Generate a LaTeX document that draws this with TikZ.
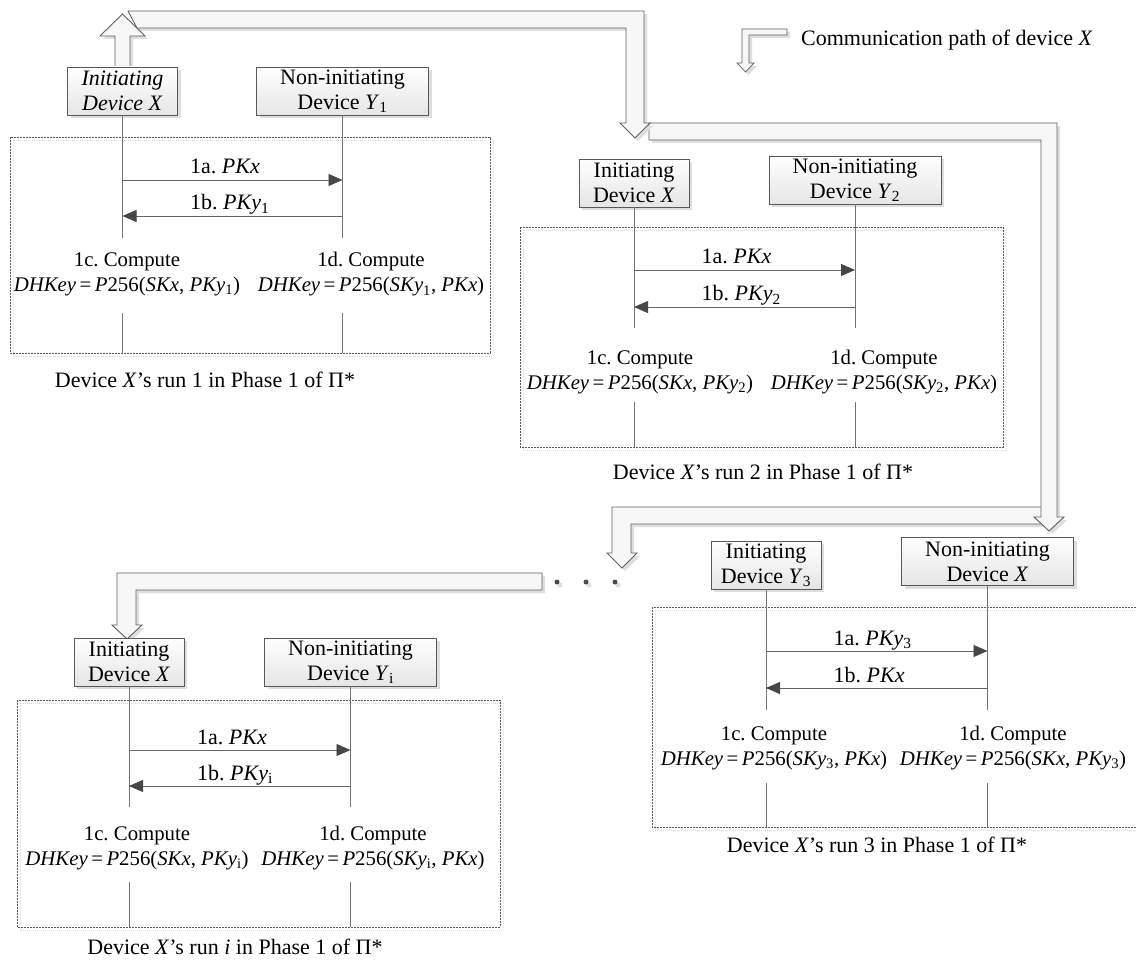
\documentclass[tikz,border=0pt]{standalone}
\usepackage{fontspec}
\setmainfont{Liberation Serif}
\usetikzlibrary{arrows.meta,shadows}
\begin{document}
\begin{tikzpicture}[x=1pt,y=-1pt,
  font=\fontsize{22}{25}\selectfont\frenchspacing,
  softshadow/.style={drop shadow={shadow xshift=3pt,shadow yshift=-3pt,fill=black!13,opacity=1}},
  devbox/.style={draw=black!65,line width=0.9pt,top color=white,bottom color=black!10,softshadow,align=center,minimum height=48pt,inner sep=2pt},
  lbox/.style={devbox,minimum width=110pt},
  rbox/.style={devbox,minimum width=172pt},
  life/.style={draw=black!55,line width=0.9pt},
  msg/.style={draw=black!60,line width=0.9pt,-{Triangle[length=14pt,width=12pt,color=black!72]}},
  lbl/.style={anchor=base west,inner sep=0pt},
  comp/.style={align=center,inner sep=0pt,font=\fontsize{20.8}{25}\selectfont\frenchspacing},
  captext/.style={inner sep=0pt},
  runbox/.style={draw=black!65,line width=0.6pt,dash pattern=on 2pt off 1pt},
  runshadow/.style={draw=black!15,line width=0.8pt,dash pattern=on 1pt off 1pt},
  band/.style={draw=black!62,line width=0.9pt,fill=black!3,softshadow},
  dot/.style={circle,fill=black!70,inner sep=0pt,minimum size=5pt,softshadow}
]
\useasboundingbox (0,0) rectangle (1136,960);

% ---------------- communication path ----------------
% band D (dots -> run i)
\draw[band] (542,573) -- (117,573) -- (117,625) -- (112,625) -- (127,639) -- (142,625) -- (136,625) -- (136,590) -- (542,590) -- cycle;
\node[dot] (d1) at (557,582) {};
\node[dot] (d2) at (586,582) {};
\node[dot] (d3) at (615,582) {};
% band C (run 3 -> dots)
\draw[band] (1045,507) -- (612,507) -- (612,553) -- (607,553) -- (622,568) -- (637,553) -- (631,553) -- (631,524) -- (1045,524) -- cycle;
% band B (run 2 -> run 3)
\draw[band] (649,123) -- (1057,123) -- (1057,517) -- (1064,517) -- (1049,531) -- (1034,517) -- (1041,517) -- (1041,140) -- (649,140) -- cycle;
% band A (run 1 -> run 2)
\draw[band] (128,11) -- (644,11) -- (644,123) -- (650,123) -- (635,138) -- (620,123) -- (626,123) -- (626,28) -- (137,28) -- cycle;
% up arrow out of run 1
\draw[band] (115,67) -- (115,36) -- (100,36) -- (122.5,14) -- (145,36) -- (130,36) -- (130,67) -- cycle;

% legend
\draw[band,line width=0.7pt] (742,29) -- (787,29) -- (787,35) -- (749,35) -- (749,63) -- (754,63) -- (745.5,72) -- (737,63) -- (742,63) -- cycle;
\node[anchor=west,inner sep=0pt] (legend) at (801,40) {Communication path of device \textit{X}};

% ---------------- run 1 ----------------
\draw[runshadow] (13,140) rectangle (493,356);
\draw[runbox] (10,137) rectangle (490,353);
\node[lbox] (L1) at (122.5,91) {\textit{Initiating}\\\textit{Device X}};
\node[rbox] (R1) at (342.5,91) {Non-initiating\\Device \textit{Y}\textsubscript{1}};
\draw[life] (L1) -- (L1 |- 0,238);
\draw[life] (R1) -- (R1 |- 0,238);
\draw[life] (L1 |- 0,313) -- (L1 |- 0,353);
\draw[life] (R1 |- 0,313) -- (R1 |- 0,353);
\draw[msg] (L1 |- 0,180) -- (R1 |- 0,180);
\draw[msg] (R1 |- 0,216) -- (L1 |- 0,216);
\node[lbl] (m1a) at (190,174) {1a. \textit{PKx}};
\node[lbl] (m1b) at (190,210) {1b. \textit{PKy}\textsubscript{1}};
\node[comp] (c1l) at (127,274.5) {1c. Compute\\\textit{DHKey}\,=\,\textit{P}256(\textit{SKx}, \textit{PKy}\textsubscript{1})};
\node[comp] (c1r) at (371,274.5) {1d. Compute\\\textit{DHKey}\,=\,\textit{P}256(\textit{SKy}\textsubscript{1}, \textit{PKx})};
\node[captext] (cap1) at (205,380) {Device \textit{X}'s run 1 in Phase 1 of Π*};

% ---------------- run 2 ----------------
\draw[runshadow] (523,230) rectangle (1006,450);
\draw[runbox] (520,227) rectangle (1003,447);
\node[lbox] (L2) at (634,183) {Initiating\\Device \textit{X}};
\node[rbox] (R2) at (855,180) {Non-initiating\\Device \textit{Y}\textsubscript{2}};
\draw[life] (L2) -- (L2 |- 0,328);
\draw[life] (R2) -- (R2 |- 0,328);
\draw[life] (L2 |- 0,402) -- (L2 |- 0,447);
\draw[life] (R2 |- 0,402) -- (R2 |- 0,447);
\draw[msg] (L2 |- 0,270) -- (R2 |- 0,270);
\draw[msg] (R2 |- 0,307) -- (L2 |- 0,307);
\node[lbl] (m2a) at (701.5,264) {1a. \textit{PKx}};
\node[lbl] (m2b) at (701.5,301) {1b. \textit{PKy}\textsubscript{2}};
\node[comp] (c2l) at (640,372) {1c. Compute\\\textit{DHKey}\,=\,\textit{P}256(\textit{SKx}, \textit{PKy}\textsubscript{2})};
\node[comp] (c2r) at (884,372) {1d. Compute\\\textit{DHKey}\,=\,\textit{P}256(\textit{SKy}\textsubscript{2}, \textit{PKx})};
\node[captext] (cap2) at (763,472) {Device \textit{X}'s run 2 in Phase 1 of Π*};

% ---------------- run 3 ----------------
\draw[runshadow] (655,610) rectangle (1148,830);
\draw[runbox] (652,607) rectangle (1145,827);
\node[lbox] (L3) at (766,565) {Initiating\\Device \textit{Y}\textsubscript{3}};
\node[rbox] (R3) at (987.5,561.5) {Non-initiating\\Device \textit{X}};
\draw[life] (L3) -- (L3 |- 0,710);
\draw[life] (R3) -- (R3 |- 0,710);
\draw[life] (L3 |- 0,783) -- (L3 |- 0,827);
\draw[life] (R3 |- 0,783) -- (R3 |- 0,827);
\draw[msg] (L3 |- 0,651) -- (R3 |- 0,651);
\draw[msg] (R3 |- 0,688) -- (L3 |- 0,688);
\node[lbl] (m3a) at (833.5,645) {1a. \textit{PKy}\textsubscript{3}};
\node[lbl] (m3b) at (833.5,682) {1b. \textit{PKx}};
\node[comp] (c3l) at (774,748) {1c. Compute\\\textit{DHKey}\,=\,\textit{P}256(\textit{SKy}\textsubscript{3}, \textit{PKx})};
\node[comp] (c3r) at (1013,748) {1d. Compute\\\textit{DHKey}\,=\,\textit{P}256(\textit{SKx}, \textit{PKy}\textsubscript{3})};
\node[captext] (cap3) at (877,845) {Device \textit{X}'s run 3 in Phase 1 of Π*};

% ---------------- run i ----------------
\draw[runshadow] (20,703) rectangle (503,930);
\draw[runbox] (17,700) rectangle (500,927);
\node[lbox] (Li) at (129,662) {Initiating\\Device \textit{X}};
\node[rbox] (Ri) at (350.5,662) {Non-initiating\\Device \textit{Y}\textsubscript{i}};
\draw[life] (Li) -- (Li |- 0,807);
\draw[life] (Ri) -- (Ri |- 0,807);
\draw[life] (Li |- 0,882) -- (Li |- 0,927);
\draw[life] (Ri |- 0,882) -- (Ri |- 0,927);
\draw[msg] (Li |- 0,750) -- (Ri |- 0,750);
\draw[msg] (Ri |- 0,786) -- (Li |- 0,786);
\node[lbl] (mia) at (197,744) {1a. \textit{PKx}};
\node[lbl] (mib) at (197,780) {1b. \textit{PKy}\textsubscript{i}};
\node[comp] (cil) at (137,848) {1c. Compute\\\textit{DHKey}\,=\,\textit{P}256(\textit{SKx}, \textit{PKy}\textsubscript{i})};
\node[comp] (cir) at (373,848) {1d. Compute\\\textit{DHKey}\,=\,\textit{P}256(\textit{SKy}\textsubscript{i}, \textit{PKx})};
\node[captext] (capi) at (235,947) {Device \textit{X}'s run \textit{i} in Phase 1 of Π*};
\end{tikzpicture}
\end{document}
